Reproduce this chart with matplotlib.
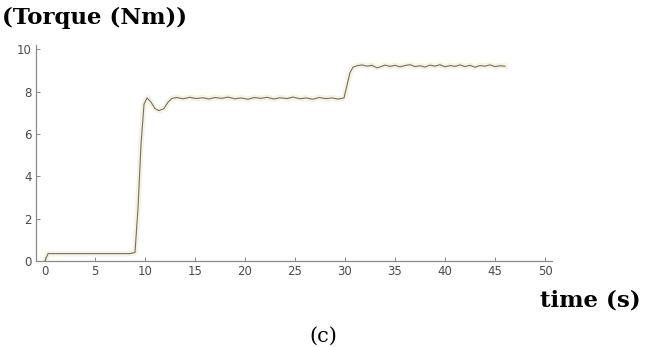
import matplotlib
matplotlib.use("Agg")
import matplotlib.pyplot as plt

# torque response
time = [0, 0.3, 0.6, 3, 6, 8.5, 9.0, 9.3, 9.6, 9.9, 10.2, 10.6, 11.0, 11.4, 11.9,
        12.3, 12.7, 13.2, 13.8, 14.5, 15.1, 15.8, 16.4, 17.0, 17.7, 18.3, 19.0,
        19.6, 20.3, 20.9, 21.6, 22.2, 22.9, 23.5, 24.2, 24.8, 25.5, 26.1, 26.8,
        27.4, 28.1, 28.7, 29.3, 29.7, 29.9, 30.2, 30.5, 30.8, 31.2, 31.7, 32.2,
        32.7, 33.2, 33.6, 34.0, 34.5, 35.0, 35.5, 36.0, 36.5, 37.0, 37.5, 38.0,
        38.5, 39.0, 39.5, 40.0, 40.5, 41.0, 41.5, 42.0, 42.5, 43.0, 43.5, 44.0,
        44.5, 45.0, 45.5, 46.0]
torque = [0, 0.35, 0.35, 0.35, 0.35, 0.35, 0.4, 2.5, 5.5, 7.4, 7.7, 7.5, 7.2, 7.1, 7.2,
          7.5, 7.68, 7.72, 7.66, 7.73, 7.67, 7.71, 7.65, 7.72, 7.68, 7.74, 7.66,
          7.7, 7.64, 7.72, 7.68, 7.73, 7.65, 7.71, 7.67, 7.74, 7.66, 7.7, 7.64,
          7.72, 7.67, 7.7, 7.65, 7.68, 7.7, 8.3, 8.9, 9.15, 9.22, 9.26, 9.2,
          9.24, 9.12, 9.18, 9.25, 9.19, 9.24, 9.17, 9.23, 9.27, 9.18, 9.22, 9.16,
          9.25, 9.2, 9.27, 9.17, 9.23, 9.19, 9.26, 9.18, 9.24, 9.15, 9.23, 9.2,
          9.26, 9.18, 9.22, 9.2]

xticks = [0, 5, 10, 15, 20, 25, 30, 35, 40, 45, 50]
yticks = [0, 2, 4, 6, 8, 10]

fig = plt.figure(figsize=(6.45, 3.47), dpi=100)
ax = fig.add_axes([36/645, 1 - 261/347, (552-36)/645, (261-45)/347])

ax.plot(time, torque, color="#f3ecc8", lw=4, alpha=0.6, zorder=1)
ax.plot(time, torque, color="#707070", lw=0.8, zorder=2)

ax.set_xlim(-0.9, 50.7)
ax.set_ylim(0, 10.2)
ax.set_xticks(xticks)
ax.set_yticks(yticks)
ax.tick_params(direction="in", length=3, width=0.7, colors="#8a8a8a",
               labelcolor="#4a4a4a", labelsize=8.5, pad=3)
for s in ["top", "right"]:
    ax.spines[s].set_visible(False)
for s in ["left", "bottom"]:
    ax.spines[s].set_color("#8a8a8a")
    ax.spines[s].set_linewidth(0.9)

fig.text(2/645, 1 - 18/347, "(Torque (Nm))", fontsize=16.5, fontweight="bold",
         family="DejaVu Serif", va="center", ha="left")
fig.text(641/645, 1 - 300/347, "time (s)", fontsize=16.5, fontweight="bold",
         family="DejaVu Serif", va="center", ha="right")
fig.text(323/645, 1 - 336/347, "(c)", fontsize=15, family="DejaVu Serif",
         va="center", ha="center")

fig.savefig("out.png", dpi=100)
